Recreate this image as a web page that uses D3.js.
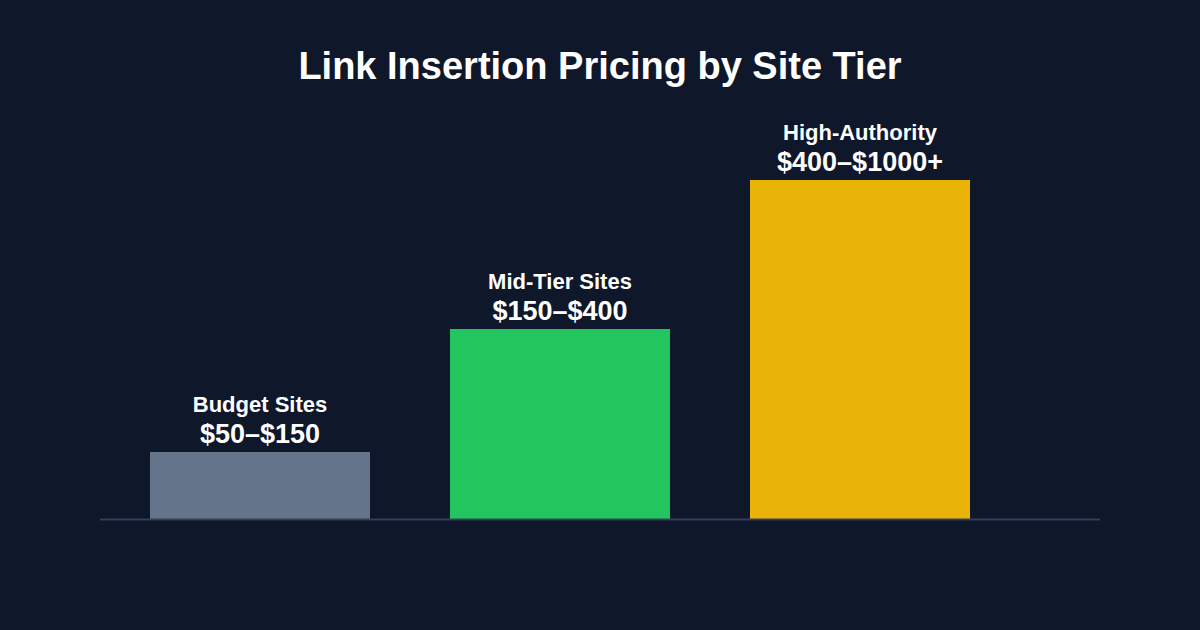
<!DOCTYPE html>
<html>
<head>
<meta charset="utf-8">
<script src="https://cdn.jsdelivr.net/npm/d3@7"></script>
<style>
  body { margin: 0; background: #0f172a; }
  text { font-family: "Liberation Sans", Arial, sans-serif; fill: #fff; font-weight: bold; }
</style>
</head>
<body>
<script>
// data
const tiers = ['Budget Sites', 'Mid-Tier Sites', 'High-Authority']
const priceLabels = ['$50–$150', '$150–$400', '$400–$1000+']
const barValues = [67, 190, 339]   // relative bar heights
const barColors = ['#64748b', '#22c55e', '#eab308']

const width = 1200
const height = 630
const baseY = 519

const svg = d3.select('body').append('svg')
  .attr('width', width)
  .attr('height', height)

svg.append('rect').attr('width', width).attr('height', height).attr('fill', '#0f172a')

svg.append('text')
  .attr('x', width / 2)
  .attr('y', 79)
  .attr('text-anchor', 'middle')
  .style('font-size', '38px')
  .text('Link Insertion Pricing by Site Tier')

const x = d3.scaleBand()
  .domain(tiers)
  .range([150, 970])
  .paddingInner(80 / 300)
  .paddingOuter(0)

const y = d3.scaleLinear()
  .domain([0, 339])
  .range([baseY, 180])

svg.selectAll('.bar')
  .data(tiers)
  .enter().append('rect')
  .attr('class', 'bar')
  .attr('x', d => x(d))
  .attr('width', x.bandwidth())
  .attr('y', (d, i) => y(barValues[i]))
  .attr('height', (d, i) => baseY - y(barValues[i]))
  .attr('fill', (d, i) => barColors[i])

// baseline
svg.append('line')
  .attr('x1', 100).attr('x2', 1100)
  .attr('y1', baseY + 0.5).attr('y2', baseY + 0.5)
  .attr('stroke', '#334155')
  .attr('stroke-width', 2)

svg.selectAll('.tier-name')
  .data(tiers)
  .enter().append('text')
  .attr('class', 'tier-name')
  .attr('x', d => x(d) + x.bandwidth() / 2)
  .attr('y', (d, i) => y(barValues[i]) - 40)
  .attr('text-anchor', 'middle')
  .style('font-size', '22px')
  .text(d => d)

svg.selectAll('.price')
  .data(tiers)
  .enter().append('text')
  .attr('class', 'price')
  .attr('x', d => x(d) + x.bandwidth() / 2)
  .attr('y', (d, i) => y(barValues[i]) - 9)
  .attr('text-anchor', 'middle')
  .style('font-size', '27px')
  .text((d, i) => priceLabels[i])
</script>
</body>
</html>
